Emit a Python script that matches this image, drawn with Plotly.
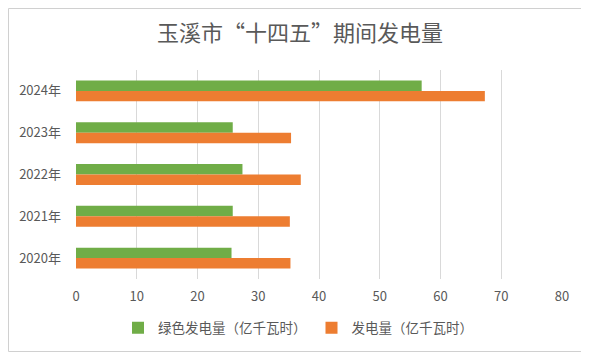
import plotly.graph_objects as go

years = ["2024年", "2023年", "2022年", "2021年", "2020年"]
green_power = [56.9, 25.8, 27.4, 25.8, 25.6]
total_power = [67.3, 35.4, 37.0, 35.2, 35.3]
series_names = ["绿色发电量（亿千瓦时）", "发电量（亿千瓦时）"]
series_colors = ["#70AD47", "#ED7D31"]
title_text = "玉溪市“十四五”期间发电量"

FONT = "Noto Sans CJK SC, Microsoft YaHei, sans-serif"
TXT = "#595959"

# page body has an 8px margin, so the figure starts at page (8, 8)
OFF = 8
W, H = 581, 350
L, R, T, B = 68, 27, 62, 79
pw, ph = W - L - R, H - T - B

def px_to_paper_x(x):  # x in page coordinates
    return (x - OFF - L) / pw

def px_to_paper_y(y):
    return (H - B - (y - OFF)) / ph

fig = go.Figure()
for vals, name, col in zip([green_power, total_power], series_names, series_colors):
    fig.add_trace(go.Bar(y=years, x=vals, orientation="h", name=name, showlegend=False,
                         marker=dict(color=col, line=dict(width=0))))
# legend entries with small square markers
for name, col in zip(series_names, series_colors):
    fig.add_trace(go.Scatter(x=[None], y=[None], mode="markers", name=name,
                             marker=dict(symbol="square", size=7, color=col)))

fig.update_layout(
    width=W, height=H,
    margin=dict(l=L, r=R, t=T, b=B, autoexpand=False),
    paper_bgcolor="white", plot_bgcolor="white",
    barmode="group", bargap=0.5, bargroupgap=0,
    font=dict(family=FONT, color=TXT, size=13),
    title=dict(text=title_text, x=px_to_paper_x(300), xref="paper", xanchor="center",
               y=1 - (33 - OFF) / H, yanchor="middle", font=dict(size=22, color=TXT, family=FONT),
               automargin=False),
    xaxis=dict(range=[0, 80], dtick=10, showgrid=True, gridcolor="#D9D9D9", gridwidth=1,
               zeroline=False, showline=False, ticks="", tickfont=dict(size=13, color=TXT),
               fixedrange=True, automargin=False, ticklabelstandoff=8),
    yaxis=dict(autorange="reversed", type="category", showgrid=False, zeroline=False,
               showline=False, ticks="", tickfont=dict(size=13, color=TXT),
               automargin=False, ticklabelstandoff=14),
    legend=dict(orientation="h", x=px_to_paper_x(298), xanchor="center",
                y=px_to_paper_y(328), yanchor="middle", font=dict(size=13.5, color=TXT),
                itemwidth=30, tracegroupgap=0, itemsizing="constant"),
    shapes=[dict(type="rect", xref="paper", yref="paper",
                 x0=px_to_paper_x(8.5), x1=px_to_paper_x(583.5),
                 y0=px_to_paper_y(351.5), y1=px_to_paper_y(8.5),
                 line=dict(color="#D0D0D0", width=1), layer="above")],
)

fig.write_html("out.html")
